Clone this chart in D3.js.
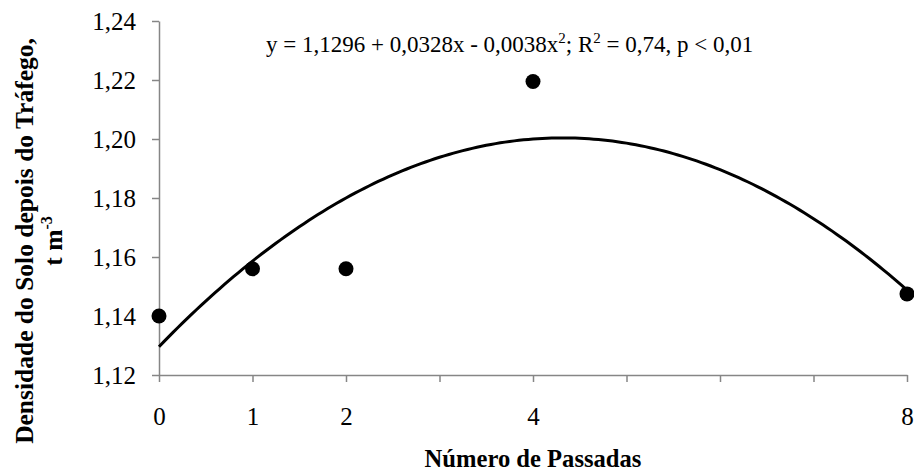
<!DOCTYPE html>
<html><head><meta charset="utf-8">
<script src="https://cdn.jsdelivr.net/npm/d3@7"></script>
<style>body{margin:0;background:#fff}svg{display:block}</style>
</head><body>
<svg id="c" width="914" height="476"></svg>
<script>
const passadas = [0, 1, 2, 4, 8];
const densidade = [1.140, 1.156, 1.156, 1.2195, 1.1475];
const xTickValues = [0, 1, 2, 3, 4, 5, 6, 7, 8];
const xTickLabels = ["0", "1", "2", "", "4", "", "", "", "8"];
const yTickValues = [1.12, 1.14, 1.16, 1.18, 1.20, 1.22, 1.24];
const yTickLabels = ["1,12", "1,14", "1,16", "1,18", "1,20", "1,22", "1,24"];
const coef = [1.1296, 0.0328, -0.0038];

const FONT = "Liberation Serif";
const svg = d3.select("#c");
const x = d3.scaleLinear().domain([0, 8]).range([159, 907]);
const y = d3.scaleLinear().domain([1.12, 1.24]).range([375, 21]);
const axisColor = "#868686";

const gx = svg.append("g").attr("transform", "translate(0,375)")
  .call(d3.axisBottom(x).tickValues(xTickValues).tickSize(7).tickSizeOuter(0)
    .tickFormat((d, i) => xTickLabels[i]));
const gy = svg.append("g").attr("transform", "translate(159,0)")
  .call(d3.axisLeft(y).tickValues(yTickValues).tickSize(7).tickSizeOuter(0)
    .tickFormat((d, i) => yTickLabels[i]));
[gx, gy].forEach(g => {
  g.attr("font-family", null).attr("font-size", null);
  g.select(".domain").attr("stroke", axisColor).attr("stroke-width", 1.5);
  g.selectAll(".tick line").attr("stroke", axisColor).attr("stroke-width", 1.5);
  g.selectAll(".tick text").style("font-family", FONT).style("font-size", "25px").attr("fill", "#000");
});
gy.selectAll(".tick text").attr("x", -23).attr("dy", "0.34em");
gx.selectAll(".tick text").attr("y", 50).attr("dy", null);

const curveX = d3.range(0, 8.0001, 0.05);
const line = d3.line().x(d => x(d)).y(d => y(coef[0] + coef[1] * d + coef[2] * d * d));
svg.append("path").datum(curveX).attr("d", line).attr("fill", "none")
  .attr("stroke", "#000").attr("stroke-width", 3);

svg.selectAll("circle.pt").data(passadas).join("circle").attr("class", "pt")
  .attr("cx", d => x(d)).attr("cy", (d, i) => y(densidade[i])).attr("r", 7.5).attr("fill", "#000");

const eq = svg.append("text").attr("x", 266).attr("y", 52)
  .style("font-family", FONT).style("font-size", "23px");
eq.append("tspan").text("y = 1,1296 + 0,0328x - 0,0038x");
eq.append("tspan").style("font-size", "15px").attr("dy", -9).text("2");
eq.append("tspan").attr("dy", 9).text("; R");
eq.append("tspan").style("font-size", "15px").attr("dy", -9).text("2");
eq.append("tspan").attr("dy", 9).text(" = 0,74, p < 0,01");

svg.append("text").attr("x", 533).attr("y", 467).attr("text-anchor", "middle")
  .style("font-family", FONT).style("font-size", "24.6px").style("font-weight", "bold")
  .text("Número de Passadas");

const yt = svg.append("g").attr("transform", "translate(0,241) rotate(-90)");
yt.append("text").attr("x", 0).attr("y", 33).attr("text-anchor", "middle")
  .style("font-family", FONT).style("font-size", "25.5px").style("font-weight", "bold")
  .text("Densidade do Solo depois do Tráfego,");
const yt2 = yt.append("text").attr("x", 0).attr("y", 62).attr("text-anchor", "middle")
  .style("font-family", FONT).style("font-size", "25.5px").style("font-weight", "bold");
yt2.append("tspan").text("t m");
yt2.append("tspan").style("font-size", "16px").attr("dy", -10).text("-3");
</script>
</body></html>
